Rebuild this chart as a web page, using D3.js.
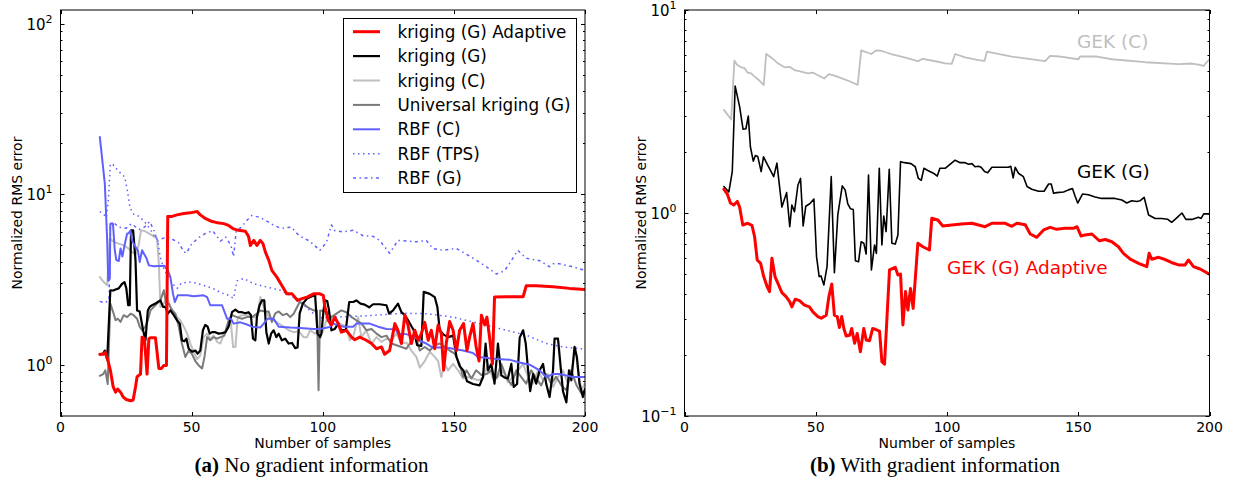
<!DOCTYPE html>
<html><head><meta charset="utf-8">
<script src="https://cdn.jsdelivr.net/npm/d3@7"></script>
<style>body{margin:0;background:#fff}</style>
</head><body><svg id="c" width="1233" height="485"></svg>
<script>
// ---------- DATA (n = number of samples, v = normalized RMS error) ----------
const xTicks = [0, 50, 100, 150, 200];

// Panel (a) No gradient information
const krigingGAdaptive = [[15,1.15],[16.3,1.15],[17.1,1.18],[18,1.07],[19,0.93],[20.1,0.74],[21,0.69],[21.8,0.72],[22.9,0.69],[23.9,0.646],[25.1,0.625],[26.7,0.614],[27.7,0.62],[28.6,0.74],[29.2,0.85],[30.5,0.88],[31.1,1.45],[32,1.42],[33,0.88],[33.7,1.42],[34.3,1.44],[36.2,1.44],[37.5,0.95],[38.5,0.95],[39.4,0.99],[40.4,0.99],[40.9,7.4],[42.5,7.4],[44.4,7.55],[47,7.69],[49.5,7.76],[52.1,7.9],[53.3,7.55],[55.2,7.2],[57.8,6.9],[59.7,6.8],[62.2,6.71],[64.1,6.55],[66,6.25],[67.9,6.13],[70.5,6.05],[71.7,5.65],[72.4,5.0],[73.7,5.35],[74.9,5.0],[76.2,5.35],[77.2,5.12],[78.1,4.58],[79.4,4.1],[80.6,3.57],[82.5,3.26],[84.4,2.91],[86.3,2.6],[88.3,2.6],[90.4,2.38],[92.1,2.44],[94,2.49],[96.5,2.6],[98.9,2.6],[100.2,2.55],[100.8,2.18],[102.1,1.82],[103.3,1.71],[104.6,1.9],[105.9,1.74],[107.1,1.55],[109,1.59],[111,1.45],[112.2,1.4],[114.1,1.45],[116.6,1.39],[118.6,1.33],[120.5,1.24],[122.4,1.27],[123.6,1.15],[125.5,1.21],[127.5,1.74],[128.7,1.59],[130,1.33],[131.3,1.95],[132.5,1.71],[133.8,1.33],[135.1,1.59],[136.4,1.39],[137.6,1.52],[138.9,1.77],[140.2,1.39],[141.4,1.59],[142.7,1.24],[144,1.71],[145.2,1.52],[146.1,0.93],[147.1,1.33],[148.4,1.79],[149.7,1.59],[151,1.21],[152.2,1.59],[153.7,1.74],[155,1.21],[156,1.45],[157.3,1.74],[158.5,1.27],[159.6,1.05],[160.5,1.95],[161.8,1.71],[162.6,1.9],[163.6,1.45],[164.7,1.01],[165.5,2.49],[170,2.5],[176.4,2.5],[177.6,2.9],[181.4,2.9],[187.8,2.86],[194.1,2.8],[200,2.76]];

const krigingG = [[15,1.15],[16.3,1.16],[16.9,1.21],[17.8,1.07],[19,2.73],[20.1,2.72],[21,2.76],[22.2,2.8],[23.5,2.98],[24.4,3.05],[25.1,2.8],[25.8,2.23],[26.4,2.23],[26.9,6.13],[27.7,6.13],[28.6,4.1],[29.2,2.08],[30.2,2.05],[31.5,1.59],[32.4,1.39],[33.3,2.08],[34,2.18],[34.9,2.23],[36.2,2.28],[37.1,2.33],[38.1,2.38],[39.1,2.18],[40,2.18],[40.9,1.99],[41.9,2.08],[43.2,1.95],[44.4,1.82],[45.5,1.74],[46.3,1.39],[47.2,1.37],[48,1.42],[48.9,1.24],[50.2,1.19],[51.4,1.21],[52.3,1.16],[53.3,1.21],[54.3,1.59],[55.2,1.71],[56.1,1.67],[56.9,1.52],[57.8,1.55],[59,1.55],[60.3,1.52],[61.6,1.53],[62.9,1.55],[64.1,1.67],[65.4,2.03],[66.7,2.1],[67.9,2.03],[69.2,2.03],[70.5,2.0],[71.7,2.03],[72.6,1.95],[73.4,1.42],[74.3,1.39],[74.9,1.9],[75.9,2.23],[76.8,2.38],[77.7,2.38],[78.5,1.55],[79.4,1.33],[80.3,1.52],[81.3,1.59],[82.3,1.45],[83.2,1.52],[84.4,1.39],[85.7,1.42],[87,1.33],[88.3,1.34],[89.5,1.25],[90.4,1.26],[91.2,2.0],[92.4,2.28],[94,2.44],[95.5,2.5],[97.1,2.55],[98,1.52],[99,1.45],[99.5,1.52],[100.3,2.08],[100.8,2.38],[101.7,2.36],[102.4,2.08],[103.3,1.59],[104.6,1.62],[105.9,1.74],[107.1,1.59],[108.8,1.6],[110.1,2.33],[111.6,2.33],[112.8,2.38],[114.4,2.28],[116,2.25],[117.7,2.17],[119.2,2.26],[121.7,2.26],[124.3,2.23],[125.3,1.99],[126.8,2.08],[128.7,2.28],[130,2.03],[131.3,1.95],[132.9,1.78],[134.7,1.59],[136,1.3],[137.6,1.29],[138.5,2.67],[140.8,2.6],[142.7,2.49],[143.7,2.18],[144.6,1.59],[146.1,1.5],[147.8,1.45],[149.7,1.48],[151,1.11],[152.2,0.98],[153.7,0.92],[155,0.8],[157.3,0.77],[159.8,0.756],[161.1,0.846],[162.1,1.33],[163,0.926],[164.3,1.01],[165.5,0.774],[166.8,1.33],[168.1,0.865],[169.4,0.84],[170.6,0.83],[171.9,1.01],[172.8,0.74],[174.1,0.77],[175.1,1.44],[176.4,1.59],[177.4,1.33],[178.3,0.926],[179.1,0.7],[180.2,0.88],[181.4,0.774],[182.7,0.926],[184,1.01],[185.2,0.774],[186.5,0.646],[187.8,0.926],[188.4,1.42],[189.7,1.42],[190.6,1.01],[191.6,0.7],[192.9,0.6],[193.9,0.926],[194.8,0.81],[196,1.27],[196.9,1.11],[197.9,0.774],[199.2,0.646],[200,0.72]];

const krigingC = [[15,3.26],[16.5,3.05],[17.8,2.92],[18.8,5.48],[20.3,5.25],[22.2,5.12],[24.1,5.0],[26,4.79],[27.3,4.58],[28.6,4.43],[29.8,5.0],[30.7,6.13],[31.7,6.1],[33,5.97],[34.9,5.72],[36.8,5.48],[37.5,3.91],[38.1,2.18],[39.4,2.28],[40.6,2.49],[41.9,2.18],[43.2,2.05],[44.4,1.9],[45.7,1.82],[47,1.67],[48.3,1.52],[49.5,1.33],[50.8,1.19],[52.1,1.08],[53.3,1.13],[54.6,1.45],[55.9,1.52],[57.1,1.42],[58.4,1.48],[59.7,1.36],[61,1.33],[62.2,1.5],[63.5,1.67],[64.8,1.9],[65.8,1.27],[66.7,1.27],[67.6,1.9],[69.2,1.95],[71.1,1.95],[73,1.92],[74.9,1.88],[76.2,2.49],[77.5,2.18],[79.4,1.9],[81.3,1.82],[83.2,1.74],[85.1,1.67],[87,1.59],[88.9,1.55],[90.8,1.57],[92.7,1.45],[94,1.45],[95.2,1.59],[97.1,1.52],[99,1.67],[100,1.55],[101.4,1.82],[104,1.86],[106.5,1.74],[109,1.67],[110.3,1.39],[111.6,1.45],[113.5,1.9],[114.7,1.45],[116.6,1.59],[118.6,1.33],[120.5,1.45],[122.4,1.36],[124.3,1.42],[126.2,1.39],[128.1,1.52],[130,1.33],[131.9,1.35],[133.8,1.21],[135.7,1.11],[137,0.96],[138.9,1.05],[140.8,1.19],[142.7,1.11],[144,1.05],[145.2,0.846],[146.5,1.01],[147.8,0.926],[149.7,1.01],[151.6,0.926],[153.5,0.83],[155.4,0.846],[157.3,0.83],[159.2,0.81],[161.1,0.83],[163,1.01],[164.9,0.83],[166.8,0.846],[168.7,0.926],[170.6,0.79],[172.6,0.846],[174.5,0.926],[176.4,1.01],[178.3,0.846],[180.2,0.774],[182.1,0.926],[184,0.81],[185.9,0.88],[187.8,0.74],[189.7,0.846],[191.6,0.926],[193.5,0.774],[195.4,1.01],[196.4,1.27],[197.3,0.926],[198.6,0.707],[200,0.774]];

const universalKrigingG = [[15,0.86],[16.3,0.88],[17.1,0.926],[18,0.77],[19,2.28],[20.1,2.03],[21,1.82],[21.8,1.86],[22.9,1.78],[24.1,1.95],[25.4,1.9],[26.7,1.99],[27.9,1.95],[29.2,1.86],[30.2,1.67],[31.1,1.59],[32.4,1.67],[33.3,1.82],[34.3,2.08],[35.6,2.18],[36.8,2.28],[38.1,2.38],[39.4,2.73],[40.4,2.23],[41.3,2.28],[42.5,2.08],[43.8,1.99],[45.1,1.67],[46.3,1.33],[47.6,1.11],[48.9,1.21],[50.2,1.15],[51.4,1.05],[52.7,0.99],[54,0.95],[54.9,1.11],[55.9,1.45],[57.1,1.39],[58.4,1.45],[59.7,1.42],[61,1.45],[62.5,1.48],[64.1,1.82],[65.4,1.95],[67.3,1.9],[69.2,1.86],[71.1,1.9],[73,1.9],[74.9,1.99],[76.2,2.08],[78.1,2.05],[79.4,2.05],[80.6,1.78],[81.9,2.0],[83.2,2.05],[84.8,1.95],[86.3,1.99],[87.6,1.9],[88.9,1.99],[91.2,2.33],[92.7,2.28],[94,2.18],[95.2,2.13],[96.5,2.08],[97.8,2.08],[98.4,0.707],[99,2.08],[101.4,2.05],[103.3,1.9],[105.2,1.99],[107.1,2.08],[109,2.03],[111,1.9],[112.8,1.82],[114.8,1.74],[116.7,1.59],[118.6,1.62],[120.5,1.52],[122.4,1.45],[124.3,1.48],[126.2,1.33],[128.1,1.3],[130,1.27],[131.9,1.24],[133.2,1.33],[134.4,1.48],[135.7,1.42],[137,1.21],[138.9,1.27],[140.8,1.21],[142.7,1.3],[144.6,1.33],[146.5,1.27],[148.4,1.21],[150.3,1.16],[152.2,1.01],[153.5,0.846],[154.8,0.926],[156.7,0.83],[158.5,0.926],[160.5,0.87],[162.4,0.88],[164.3,0.926],[166.2,0.83],[168.1,1.01],[170,0.846],[171.9,0.76],[173.8,0.926],[175.7,0.846],[177.6,0.774],[179.5,0.926],[181.4,0.83],[183.3,0.756],[185.2,0.88],[187.1,0.774],[189,0.85],[191,0.756],[192.9,0.707],[194.8,0.926],[196.7,0.76],[198.6,0.68],[200,0.707]];

const rbfC = [[15,21.6],[16.9,11.5],[17.8,5.35],[18.2,3.1],[18.8,3.2],[19,6.7],[20,6.7],[20.7,4.68],[21.3,4.1],[22.2,4.05],[22.9,4.8],[23.6,4.3],[24.4,5.0],[25.4,5.85],[26,5.9],[26.7,6.1],[27.3,5.35],[28.2,5.0],[29.5,4.68],[30.2,4.0],[31.1,4.68],[32.8,4.2],[33.7,3.82],[35.6,3.77],[39.6,3.8],[40.9,3.57],[41.9,3.26],[42.9,2.6],[43.6,2.33],[44.7,2.55],[48.3,2.55],[50.8,2.52],[54.6,2.55],[55.9,2.49],[57.1,2.23],[61.6,2.23],[63.5,1.86],[65,1.86],[66,1.74],[68.6,1.77],[71.1,1.72],[73,1.67],[76.2,1.65],[79,1.86],[81.3,1.86],[83.2,1.67],[87.6,1.65],[91.4,1.64],[96.5,1.62],[98.9,1.62],[102.7,1.66],[104,1.74],[107.8,1.67],[111.6,1.67],[112.8,1.74],[117.9,1.74],[121.1,1.67],[124.3,1.62],[127.8,1.61],[128.7,1.52],[131.9,1.51],[135,1.45],[137,1.38],[139.5,1.33],[142,1.26],[147.1,1.26],[149.7,1.24],[153.5,1.21],[157.3,1.17],[159.2,1.11],[166.2,1.08],[171.2,1.07],[175,1.03],[178.9,1.0],[182.7,0.926],[185.2,0.846],[187.8,0.88],[190.3,0.88],[192.8,0.865],[195.4,0.846],[200,0.846]];

const rbfTPS = [[15,7.9],[16.5,7.6],[17.5,7.3],[18.3,9.5],[19,15],[20,14.9],[21.5,14],[23,13.2],[24.5,12.6],[25.5,10.5],[26.5,8.3],[28,7.6],[30,7.4],[32,6.9],[34,6.3],[36,5.6],[37,5.4],[38,4.3],[39.5,3.6],[41,3.3],[43,2.95],[44.5,2.8],[46,3.0],[49,3.05],[52,3.0],[55,2.9],[58,2.8],[61,2.65],[64,2.55],[66,2.45],[67.3,3.1],[69.8,3.2],[73.7,2.98],[78.7,2.85],[83.8,2.73],[87.6,2.55],[91.4,2.33],[96.5,1.99],[98.9,1.88],[105.2,1.9],[115.4,1.93],[124.3,1.97],[130.6,2.0],[139.5,1.99],[149.7,1.9],[159.8,1.74],[170,1.59],[177.6,1.49],[185.2,1.33],[191.6,1.27],[200,1.23]];

const rbfG = [[15,2.35],[17,2.3],[18.5,2.4],[19,6.5],[20,6.9],[22,6.4],[25,6.3],[27,6.7],[30,6.2],[32,6.4],[34,6.9],[35.5,6.2],[37,5.3],[39,5.5],[41,5.6],[43,5.4],[45,5.2],[47,4.6],[48,4.5],[50,5.1],[53,5.6],[55,5.85],[58,6.1],[61,5.3],[63,5.6],[65,5.0],[66,4.3],[67,6.1],[69,6.4],[71,7.0],[73,7.5],[76,7.3],[79,6.9],[81,6.6],[84,6.3],[88,6.4],[91,5.7],[95,5.3],[98.9,4.68],[101.4,5.2],[103.3,6.6],[104.6,6.1],[107.8,6.0],[111.6,6.13],[115.4,5.7],[119.2,5.65],[121.7,5.35],[125.5,4.5],[128.7,5.35],[131.9,5.3],[135.7,5.25],[139.5,5.35],[142,4.8],[145.8,4.68],[150.9,4.8],[154.7,4.45],[158.5,4.1],[162.4,3.75],[166.2,3.4],[169.3,3.55],[171.2,3.91],[174.4,4.68],[177.6,4.2],[182.7,4.07],[186.5,3.75],[187.8,3.9],[190.3,3.9],[192.8,3.82],[195.4,3.75],[200,3.57]];

// Panel (b) With gradient information
const gekGAdaptive = [[15,1.31],[16.3,1.24],[17.5,1.12],[18.8,1.095],[20.1,1.14],[21,1.07],[22.2,0.873],[24.1,0.89],[25.7,0.87],[26.7,0.764],[27.7,0.587],[29,0.565],[30.2,0.485],[31.5,0.433],[32.4,0.41],[33.3,0.598],[34.5,0.485],[35.6,0.45],[37.1,0.405],[38.7,0.387],[40.1,0.365],[40.9,0.345],[42.2,0.376],[43.8,0.37],[45.7,0.352],[47.6,0.345],[48.9,0.326],[50.8,0.309],[52.1,0.303],[54,0.314],[55,0.387],[56.1,0.447],[57.1,0.314],[58.2,0.309],[59,0.273],[59.9,0.309],[60.7,0.27],[61.6,0.248],[62.9,0.25],[63.7,0.27],[64.8,0.228],[65.8,0.255],[67,0.207],[68.3,0.27],[69.2,0.237],[70.5,0.235],[71.7,0.27],[73.4,0.265],[74.3,0.262],[75.2,0.185],[76.2,0.18],[78.1,0.524],[80.3,0.54],[81.3,0.495],[82.3,0.5],[83.2,0.281],[84.2,0.41],[85.1,0.333],[86.1,0.425],[87.1,0.339],[88.9,0.709],[90.8,0.682],[93.3,0.657],[94.2,0.942],[96.5,0.924],[98.4,0.863],[101.8,0.873],[105.6,0.882],[109.5,0.89],[114.5,0.856],[117.1,0.89],[122.2,0.89],[124.7,0.86],[126.6,0.89],[129.8,0.875],[131.7,0.788],[134.2,0.759],[136.8,0.825],[139.3,0.85],[141.8,0.831],[144.4,0.84],[148.2,0.84],[149.5,0.856],[151.1,0.77],[152.6,0.78],[155.2,0.788],[158,0.73],[160.3,0.74],[162.8,0.722],[165.3,0.682],[167.2,0.633],[169.8,0.592],[173,0.565],[176.1,0.544],[177,0.633],[178,0.592],[180.6,0.605],[183.1,0.59],[185.7,0.569],[188.2,0.555],[190.7,0.555],[192,0.587],[193.9,0.544],[196.4,0.53],[200,0.5]];

const gekG = [[15,1.35],[16.9,1.27],[18.2,1.6],[19.3,4.22],[21,3.34],[22.3,2.59],[23.4,2.6],[24.3,3.0],[25.1,2.12],[26.2,1.8],[27,1.92],[27.9,1.9],[29.2,1.6],[30.1,1.89],[31.7,1.72],[34,1.51],[35.2,1.76],[37.1,1.07],[38.9,1.26],[40.1,0.856],[40.9,1.095],[41.9,1.015],[43.2,1.37],[44.2,1.48],[45.2,0.863],[46.2,1.08],[47.7,1.11],[49.3,1.17],[50.3,0.61],[51.3,0.486],[52,0.49],[53.1,0.442],[54.3,0.544],[55.9,1.51],[57.1,0.508],[58.4,0.978],[60.1,1.36],[61.2,1.3],[62.2,1.11],[63.2,1.05],[64.3,1.04],[65.1,0.582],[66.3,0.575],[67.3,0.722],[68.3,0.71],[69.2,0.628],[70.1,1.54],[71.2,0.524],[72.4,0.696],[73.1,0.633],[74.2,1.66],[75.2,0.696],[75.9,0.967],[76.8,0.81],[78,1.64],[79,0.709],[80.3,0.703],[81.3,0.78],[82.3,1.79],[83.8,1.77],[86.3,1.75],[87.9,1.69],[89.1,1.48],[90.2,1.45],[91.2,1.66],[92.7,1.62],[95.2,1.56],[96.3,1.52],[97.3,1.66],[99.3,1.66],[103.1,1.82],[105,1.77],[106.9,1.77],[108.2,1.74],[109.5,1.75],[110.7,1.69],[112,1.7],[113,1.68],[114.3,1.6],[115.5,1.58],[117.1,1.68],[119.6,1.68],[123.4,1.68],[124.3,1.7],[125.2,1.49],[126,1.68],[127.2,1.57],[129.1,1.51],[130.5,1.35],[132.3,1.31],[134.9,1.28],[137,1.28],[138.7,1.39],[139.7,1.39],[140.6,1.25],[141.8,1.26],[144.4,1.27],[146.3,1.3],[147.8,1.32],[148.8,1.21],[149.8,1.12],[151.6,1.24],[153.9,1.23],[156.4,1.2],[158.9,1.18],[161.5,1.18],[164,1.18],[166.6,1.159],[168.5,1.12],[170.4,1.15],[172.3,1.14],[173.6,1.15],[175.1,1.195],[176.8,0.978],[179.3,0.94],[181.8,0.94],[184.1,0.931],[185.6,0.9],[186.9,0.93],[189.5,1.0],[191,0.93],[193.3,0.93],[195.8,0.952],[196.8,0.94],[197.8,0.99],[200,0.99]];

const gekC = [[15,3.22],[17.8,2.89],[19,5.63],[20.1,5.36],[21.6,5.22],[22.9,5.17],[24.1,4.91],[25.4,4.87],[26.7,4.7],[28.6,4.48],[30.2,4.27],[31.1,6.07],[33,5.84],[35.6,5.46],[38.1,5.22],[40,5.25],[41.9,5.06],[44.4,4.97],[47,4.87],[48.9,4.92],[50.8,4.77],[53.3,4.6],[55,4.83],[57.1,4.75],[61,4.55],[63.5,4.42],[66,4.28],[67.3,6.32],[71.1,6.07],[73,6.32],[74.9,6.3],[78.7,6.07],[83.8,5.84],[88.9,5.6],[90.8,5.75],[96.5,5.56],[99.3,5.46],[101.8,5.43],[103.1,6.07],[106.9,5.84],[112,5.67],[114.3,5.62],[115.2,6.23],[124.7,5.9],[137.4,5.6],[139.3,5.95],[143.1,5.9],[150.1,5.72],[150.7,5.9],[157.1,5.9],[162.8,5.72],[175.5,5.53],[188.2,5.41],[193.3,5.45],[195.8,5.38],[197.7,5.3],[200,5.72]];

// ---------- DRAWING ----------
const svg = d3.select("#c");
const FONT = '"DejaVu Sans", sans-serif';
const SERIF = '"Liberation Serif", "Times New Roman", serif';

function drawPanel(opt) {
  const x = d3.scaleLinear().domain([0, 200]).range([opt.left, opt.right]);
  const y = d3.scaleLog().domain(opt.yDomain).range([opt.bottom, opt.top]);
  const g = svg.append("g");
  const clipId = "clip" + opt.id;
  svg.append("clipPath").attr("id", clipId).append("rect")
    .attr("x", opt.left).attr("y", opt.top)
    .attr("width", opt.right - opt.left).attr("height", opt.bottom - opt.top);

  const line = d3.line().x(d => x(d[0])).y(d => y(d[1]));
  const lg = g.append("g").attr("clip-path", `url(#${clipId})`);
  opt.series.forEach(s => {
    lg.append("path").attr("d", line(s.data)).attr("fill", "none")
      .attr("stroke", s.color).attr("stroke-width", s.width)
      .attr("stroke-linejoin", "round").attr("stroke-linecap", s.dash ? "butt" : "round")
      .attr("stroke-dasharray", s.dash || null);
  });

  // frame
  g.append("rect").attr("x", opt.left).attr("y", opt.top)
    .attr("width", opt.right - opt.left).attr("height", opt.bottom - opt.top)
    .attr("fill", "none").attr("stroke", "#000").attr("stroke-width", 1);

  // x ticks (inward, bottom and top)
  xTicks.forEach(t => {
    const px = Math.round(x(t)) + 0.5;
    g.append("line").attr("x1", px).attr("x2", px).attr("y1", opt.bottom).attr("y2", opt.bottom - 4).attr("stroke", "#000");
    g.append("line").attr("x1", px).attr("x2", px).attr("y1", opt.top).attr("y2", opt.top + 4).attr("stroke", "#000");
    g.append("text").attr("x", x(t)).attr("y", opt.bottom + 16).attr("text-anchor", "middle")
      .attr("font-size", 14).attr("font-family", FONT).text(t);
  });

  // y ticks (log)
  y.ticks().forEach(t => {
    const e = Math.log10(t);
    const major = Math.abs(e - Math.round(e)) < 1e-9;
    const py = Math.round(y(t)) + 0.5;
    const len = major ? 4 : 2;
    g.append("line").attr("x1", opt.left).attr("x2", opt.left + len).attr("y1", py).attr("y2", py).attr("stroke", "#000");
    g.append("line").attr("x1", opt.right).attr("x2", opt.right - len).attr("y1", py).attr("y2", py).attr("stroke", "#000");
    if (major) {
      const tx = g.append("text").attr("x", opt.left - 8).attr("y", y(t) + 6)
        .attr("text-anchor", "end").attr("font-size", 15).attr("font-family", FONT);
      tx.append("tspan").text("10");
      tx.append("tspan").attr("dy", -7).attr("font-size", 11).text(String(Math.round(e)).replace("-", "\u2212"));
    }
  });

  // axis labels
  g.append("text").attr("x", (opt.left + opt.right) / 2).attr("y", opt.bottom + 32)
    .attr("text-anchor", "middle").attr("font-size", 14).attr("font-family", FONT).text("Number of samples");
  g.append("text").attr("transform", `translate(${opt.left - 39},${(opt.top + opt.bottom) / 2}) rotate(-90)`)
    .attr("text-anchor", "middle").attr("font-size", 14).attr("font-family", FONT).text("Normalized RMS error");

  // caption
  const cap = g.append("text").attr("x", opt.capX).attr("y", 472).attr("text-anchor", "middle")
    .attr("font-family", SERIF).attr("font-size", 21);
  cap.append("tspan").attr("font-weight", "bold").text(opt.capTag);
  cap.append("tspan").text(" " + opt.capText);
  return { x, y, g };
}

const RED = "#ff0000", BLACK = "#000000", LGREY = "#bfbfbf", DGREY = "#7a7a7a", BLUE = "#6060ff";

const seriesA = [
  { name: "kriging (C)", data: krigingC, color: LGREY, width: 2 },
  { name: "Universal kriging (G)", data: universalKrigingG, color: DGREY, width: 2 },
  { name: "RBF (TPS)", data: rbfTPS, color: BLUE, width: 1.5, dash: "1.5,3.5" },
  { name: "RBF (G)", data: rbfG, color: BLUE, width: 1.5, dash: "3,3.5,1.5,3.5" },
  { name: "kriging (G)", data: krigingG, color: BLACK, width: 2.2 },
  { name: "RBF (C)", data: rbfC, color: BLUE, width: 2 },
  { name: "kriging (G) Adaptive", data: krigingGAdaptive, color: RED, width: 3 }
];
const A = drawPanel({ id: "a", left: 60.5, right: 585, top: 10, bottom: 416, yDomain: [0.5, 120],
  series: seriesA, capX: 311.5, capTag: "(a)", capText: "No gradient information" });

// legend
const legendOrder = ["kriging (G) Adaptive", "kriging (G)", "kriging (C)", "Universal kriging (G)", "RBF (C)", "RBF (TPS)", "RBF (G)"];
const lg = svg.append("g");
lg.append("rect").attr("x", 343.5).attr("y", 18.5).attr("width", 233).attr("height", 174)
  .attr("fill", "#fff").attr("stroke", "#000").attr("stroke-width", 1);
legendOrder.forEach((nm, i) => {
  const s = seriesA.find(d => d.name === nm);
  const cy = 31.7 + i * 24.4;
  lg.append("line").attr("x1", 353).attr("x2", 380).attr("y1", cy).attr("y2", cy)
    .attr("stroke", s.color).attr("stroke-width", s.width).attr("stroke-dasharray", s.dash || null);
  lg.append("text").attr("x", 397.5).attr("y", cy + 6).attr("font-size", 16.8).attr("font-family", FONT).text(nm);
});

const seriesB = [
  { name: "GEK (C)", data: gekC, color: LGREY, width: 1.8 },
  { name: "GEK (G)", data: gekG, color: BLACK, width: 1.6 },
  { name: "GEK (G) Adaptive", data: gekGAdaptive, color: RED, width: 3 }
];
const B = drawPanel({ id: "b", left: 684.5, right: 1209.5, top: 10, bottom: 416, yDomain: [0.1, 10],
  series: seriesB, capX: 935, capTag: "(b)", capText: "With gradient information" });

const notes = [
  { text: "GEK (C)", color: LGREY, x: 1077, y: 48 },
  { text: "GEK (G)", color: BLACK, x: 1077, y: 178 },
  { text: "GEK (G) Adaptive", color: RED, x: 947, y: 274 }
];
notes.forEach(n => svg.append("text").attr("x", n.x).attr("y", n.y).attr("fill", n.color)
  .attr("font-size", 18.5).attr("font-family", FONT).text(n.text));
</script></body></html>
